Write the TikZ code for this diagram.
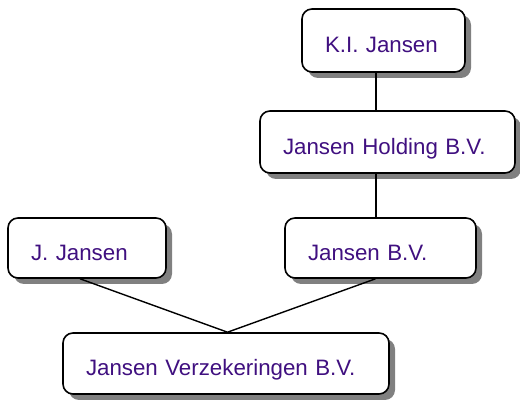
\documentclass[tikz,border=0pt]{standalone}
\usepackage{fontspec}
\setmainfont{Liberation Sans}
\usetikzlibrary{shadows}
\definecolor{txtpurple}{RGB}{64,16,128}
\begin{document}
\begin{tikzpicture}[x=1pt,y=-1pt,
  orgbox/.style={draw=black, line width=1.6pt, fill=white, rounded corners=10pt,
    drop shadow={shadow xshift=6pt, shadow yshift=-6pt, opacity=1, fill=black!50},
    inner xsep=23pt, inner ysep=0pt, align=left, text=txtpurple,
    font=\fontsize{22.3}{26}\selectfont, text height=25pt, text depth=0pt},
  link/.style={draw=black, line width=1.4pt}]
\useasboundingbox[fill=white] (0,0) rectangle (520,403);
\node[orgbox, text width=117pt, minimum height=63pt] (ki) at (383.5,40.5) {K.I. Jansen};
\node[orgbox, text width=209pt, minimum height=62pt] (hold) at (387.5,142) {Jansen Holding B.V.};
\node[orgbox, text width=112pt, minimum height=60pt] (jj) at (87,248) {J. Jansen};
\node[orgbox, text width=145pt, minimum height=60pt] (jbv) at (380.5,248) {Jansen B.V.};
\node[orgbox, text width=280pt, minimum height=61pt] (jv) at (226,363.5) {Jansen Verzekeringen B.V.};
\draw[link] ([xshift=-7.5pt]ki.south) -- ([xshift=-11.5pt]hold.north);
\draw[link] ([xshift=-11.5pt]hold.south) -- ([xshift=-4.5pt]jbv.north);
\draw[link] ([xshift=-7pt]jj.south) -- ([xshift=1.5pt]jv.north);
\draw[link] ([xshift=-5pt]jbv.south) -- ([xshift=1.5pt]jv.north);
\end{tikzpicture}
\end{document}
